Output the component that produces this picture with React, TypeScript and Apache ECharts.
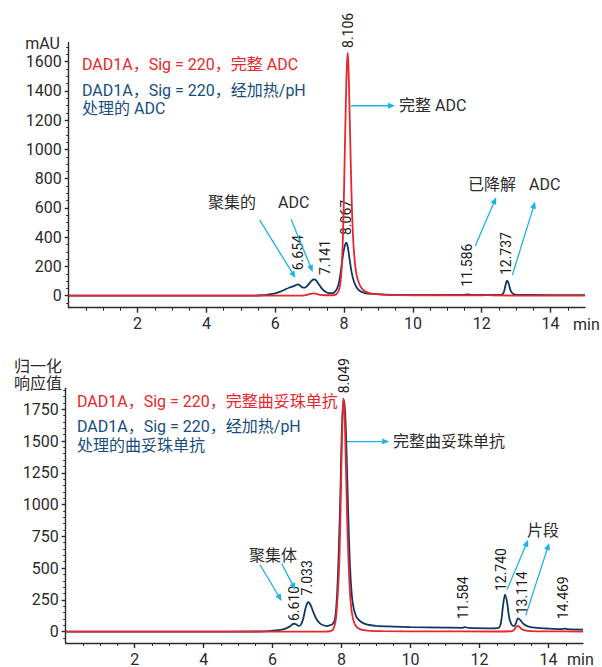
import React, { useEffect, useRef } from "react";
import * as echarts from "echarts";

const FONT = "Roboto, 'Noto Sans CJK SC', sans-serif";
const RED = "#e8262b";
const NAVY = "#0d3864";
const LEGEND_BLUE = "#174d7e";
const CYAN = "#19b3ea";
const INK = "#2b2b2b";

// ---- Panel A: ADC, absorbance (mAU) vs retention time (min) ----
const adcIntactTime = [0, 2, 4, 6, 6.8, 6.95, 7.05, 7.12, 7.2, 7.3, 7.45, 7.65, 7.78, 7.86, 7.92, 7.97, 8.01, 8.05, 8.08, 8.106, 8.13, 8.16, 8.2, 8.24, 8.29, 8.35, 8.42, 8.5, 8.62, 8.8, 9.1, 9.6, 10.5, 12.0, 12.16, 12.3, 13.5, 15];
const adcIntactSignal = [0, 0, 0, 0, 1, 7, 14, 16, 12, 6, 3, 3, 12, 45, 150, 420, 850, 1300, 1560, 1660, 1560, 1260, 850, 520, 290, 160, 95, 55, 28, 14, 7, 4, 3, 2, 6, 2, 1, 0];

const adcStressedTime = [0, 2, 4, 5.4, 5.6, 5.8, 6.0, 6.15, 6.3, 6.42, 6.52, 6.6, 6.654, 6.7, 6.78, 6.86, 6.95, 7.03, 7.1, 7.141, 7.18, 7.26, 7.35, 7.45, 7.55, 7.65, 7.73, 7.8, 7.86, 7.92, 7.97, 8.02, 8.067, 8.11, 8.16, 8.22, 8.29, 8.37, 8.46, 8.6, 8.8, 9.2, 10, 11, 11.45, 11.586, 11.7, 12.2, 12.55, 12.63, 12.69, 12.737, 12.78, 12.84, 12.92, 13.05, 13.5, 14.5, 15];
const adcStressedSignal = [0, 0, 0, 1, 3, 8, 16, 28, 44, 56, 64, 72, 78, 74, 58, 55, 72, 96, 110, 112, 106, 80, 50, 28, 18, 17, 26, 50, 100, 190, 280, 340, 362, 330, 250, 160, 95, 55, 32, 18, 12, 8, 6, 5, 5, 9, 5, 5, 6, 18, 70, 103, 85, 35, 11, 6, 5, 4, 4];

const adcPeakTimes = [6.654, 7.141, 8.067, 8.106, 11.586, 12.737];
const adcLabelLayout = [
  { base: 174, dx: 0 },
  { base: 141, dx: 11 },
  { base: 415, dx: 0 },
  { base: 1694, dx: 0 },
  { base: 62, dx: 0 },
  { base: 141, dx: -1 },
];

// ---- Panel B: trastuzumab, normalised response vs retention time (min) ----
const mabIntactTime = [0, 2, 4, 6, 7.5, 7.68, 7.76, 7.83, 7.89, 7.94, 7.98, 8.02, 8.049, 8.08, 8.11, 8.15, 8.2, 8.26, 8.33, 8.42, 8.55, 8.75, 9.2, 10.5, 12.5, 12.95, 13.02, 13.07, 13.114, 13.16, 13.22, 13.32, 13.5, 14, 15];
const mabIntactSignal = [0, 0, 0, 0, 0, 4, 20, 90, 300, 600, 1100, 1620, 1836, 1740, 1480, 1000, 560, 240, 100, 42, 18, 8, 4, 2, 1, 4, 22, 40, 45, 36, 20, 9, 4, 2, 1];

const mabStressedTime = [0, 2, 4, 5.6, 5.9, 6.1, 6.3, 6.42, 6.52, 6.61, 6.68, 6.75, 6.82, 6.89, 6.95, 7.0, 7.033, 7.07, 7.13, 7.2, 7.28, 7.37, 7.47, 7.57, 7.66, 7.74, 7.81, 7.87, 7.92, 7.97, 8.01, 8.06, 8.1, 8.14, 8.19, 8.25, 8.32, 8.42, 8.55, 8.72, 9.0, 9.5, 10.0, 11.0, 11.5, 11.584, 11.68, 12.3, 12.55, 12.62, 12.68, 12.74, 12.8, 12.86, 12.93, 13.0, 13.05, 13.114, 13.18, 13.27, 13.4, 13.6, 14.0, 14.38, 14.469, 14.56, 15];
const mabStressedSignal = [0, 0, 0, 1, 4, 9, 18, 30, 45, 62, 58, 45, 55, 105, 180, 222, 232, 225, 190, 140, 95, 65, 50, 44, 50, 60, 100, 300, 650, 1150, 1600, 1825, 1740, 1450, 950, 480, 230, 120, 80, 58, 46, 40, 36, 32, 30, 36, 29, 26, 30, 70, 200, 292, 230, 110, 55, 44, 62, 104, 92, 62, 42, 32, 24, 20, 24, 19, 16];

const mabPeakTimes = [6.61, 7.033, 8.049, 11.584, 12.74, 13.114, 14.469];
const mabLabelLayout = [
  { base: 83, dx: 0 },
  { base: 285, dx: -1.5 },
  { base: 1876, dx: 1 },
  { base: 97, dx: -2 },
  { base: 319, dx: -4.5 },
  { base: 136, dx: 3.6 },
  { base: 97, dx: -1.5 },
];

// ---- axis ticks ----
const xMajorTicks = [2, 4, 6, 8, 10, 12, 14];
const adcYLabels = [0, 200, 400, 600, 800, 1000, 1200, 1400, 1600];
const mabYLabels = [0, 250, 500, 750, 1000, 1250, 1500, 1750];

function steps(from: number, to: number, step: number): number[] {
  const out: number[] = [];
  for (let v = from; v <= to + 1e-9; v += step) out.push(Math.round(v * 100) / 100);
  return out;
}
const xMinorTicks = steps(0.5, 14.5, 0.5);
const adcYMinor = steps(-50, 1700, 50);
const mabYMinor = steps(-50, 1900, 50);

const zip = (t: number[], v: number[]) => t.map((x, i) => [x, v[i]]);

const inkLine = { color: INK, width: 1.4 };
const tickLabel = { fontSize: 16, color: INK, fontFamily: FONT, formatter: (v: number) => String(v) };

function xAxesFor(grid: number) {
  return [
    {
      type: "value", gridIndex: grid, position: "bottom", min: 0, max: 15,
      axisLine: { show: true, onZero: false, lineStyle: inkLine },
      axisTick: { show: true, customValues: xMajorTicks, length: 5, lineStyle: inkLine },
      axisLabel: { show: true, customValues: xMajorTicks, margin: 8, ...tickLabel },
      splitLine: { show: false },
    },
    {
      type: "value", gridIndex: grid, position: "bottom", min: 0, max: 15,
      axisLine: { show: false, onZero: false },
      axisTick: { show: true, customValues: xMinorTicks, length: 3, lineStyle: { color: INK, width: 1 } },
      axisLabel: { show: false },
      splitLine: { show: false },
    },
  ];
}

function yAxesFor(grid: number, min: number, max: number, labels: number[], minor: number[]) {
  return [
    {
      type: "value", gridIndex: grid, position: "left", min, max,
      axisLine: { show: true, onZero: false, lineStyle: inkLine },
      axisTick: { show: true, customValues: labels, length: 4, lineStyle: inkLine },
      axisLabel: { show: true, customValues: labels, margin: 7, ...tickLabel },
      splitLine: { show: false },
    },
    {
      type: "value", gridIndex: grid, position: "left", min, max,
      axisLine: { show: false, onZero: false },
      axisTick: { show: true, customValues: minor, length: 2.5, lineStyle: { color: INK, width: 1 } },
      axisLabel: { show: false },
      splitLine: { show: false },
    },
  ];
}

function trace(name: string, xi: number, yi: number, t: number[], v: number[], color: string, z: number) {
  return {
    name, type: "line", xAxisIndex: xi, yAxisIndex: yi,
    data: zip(t, v), showSymbol: false, symbol: "none", smooth: 0.35,
    lineStyle: { color, width: 1.8 }, z, silent: true,
  };
}

function text(x: number, y: number, content: string, fill: string, align = "left", size = 16) {
  return {
    type: "text", x, y, silent: true,
    style: { text: content, fill, font: `${size}px ${FONT}`, align, verticalAlign: "middle" },
  };
}

const App: React.FC = () => {
  const ref = useRef<HTMLDivElement>(null);

  useEffect(() => {
    document.body.style.margin = "0";
    if (!ref.current) return;
    const chart = echarts.init(ref.current, undefined, { renderer: "svg" });

    chart.setOption({
      animation: false,
      backgroundColor: "#ffffff",
      textStyle: { fontFamily: FONT },
      grid: [
        { left: 68.7, right: 17, top: 42.7, height: 265 },
        { left: 65.7, right: 19, top: 388.3, height: 255.4 },
      ],
      xAxis: [...xAxesFor(0), ...xAxesFor(1)],
      yAxis: [
        ...yAxesFor(0, -82, 1730, adcYLabels, adcYMinor),
        ...yAxesFor(1, -89.5, 1915, mabYLabels, mabYMinor),
      ],
      series: [
        trace("ADC heat/pH", 0, 0, adcStressedTime, adcStressedSignal, NAVY, 2),
        trace("ADC intact", 0, 0, adcIntactTime, adcIntactSignal, RED, 3),
        trace("mAb heat/pH", 2, 2, mabStressedTime, mabStressedSignal, NAVY, 2),
        trace("mAb intact", 2, 2, mabIntactTime, mabIntactSignal, RED, 3),
      ],
    });

    const toPx = (series: number, t: number, v: number) =>
      chart.convertToPixel({ seriesIndex: series }, [t, v]) as number[];

    const graphics: any[] = [];

    const peakLabels = (series: number, times: number[], layout: { base: number; dx: number }[]) => {
      times.forEach((t, i) => {
        const [px, py] = toPx(series, t, layout[i].base);
        graphics.push({
          type: "text", x: px + layout[i].dx, y: py, rotation: Math.PI / 2, silent: true,
          style: { text: t.toFixed(3), fill: "#1a1a1a", font: `14px ${FONT}`, align: "left", verticalAlign: "middle" },
        });
      });
    };
    peakLabels(0, adcPeakTimes, adcLabelLayout);
    peakLabels(2, mabPeakTimes, mabLabelLayout);

    const arrow = (series: number, t1: number, v1: number, t2: number, v2: number) => {
      const [x1, y1] = toPx(series, t1, v1);
      const [x2, y2] = toPx(series, t2, v2);
      const a = Math.atan2(y2 - y1, x2 - x1);
      const len = 7, half = 3;
      const bx = x2 - len * Math.cos(a), by = y2 - len * Math.sin(a);
      graphics.push({
        type: "line", silent: true,
        shape: { x1, y1, x2: bx + Math.cos(a), y2: by + Math.sin(a) },
        style: { stroke: CYAN, lineWidth: 1.3 },
      });
      graphics.push({
        type: "polygon", silent: true,
        shape: {
          points: [
            [x2, y2],
            [bx + half * Math.sin(a), by - half * Math.cos(a)],
            [bx - half * Math.sin(a), by + half * Math.cos(a)],
          ],
        },
        style: { fill: CYAN },
      });
    };
    // Panel A call-outs
    arrow(0, 8.2, 1299, 9.48, 1299);
    arrow(0, 5.545, 518, 6.59, 121);
    arrow(0, 6.46, 522, 7.09, 162);
    arrow(0, 11.81, 340, 12.42, 673);
    arrow(0, 12.89, 142, 13.55, 643);
    // Panel B call-outs
    arrow(2, 8.14, 1496, 9.38, 1496);
    arrow(2, 5.63, 528, 6.26, 242);
    arrow(2, 6.26, 536, 6.66, 328);
    arrow(2, 12.8, 332, 13.41, 724);
    arrow(2, 13.34, 128, 14.02, 698);

    graphics.push(
      // Panel A
      text(60, 43, "mAU", INK, "right"),
      text(82, 64, "DAD1A，Sig = 220，完整 ADC", RED),
      text(82, 90, "DAD1A，Sig = 220，经加热/pH", LEGEND_BLUE),
      text(82, 108.5, "处理的 ADC", LEGEND_BLUE),
      text(399, 105, "完整 ADC", INK),
      text(208, 202.7, "聚集的", INK),
      text(278, 202.7, "ADC", INK),
      text(468, 184, "已降解", INK),
      text(529, 184, "ADC", INK),
      text(573, 324, "min", INK),
      // Panel B
      text(14, 366, "归一化", INK),
      text(14, 383.3, "响应值", INK),
      text(77, 401.7, "DAD1A，Sig = 220，完整曲妥珠单抗", RED),
      text(77, 426.7, "DAD1A，Sig = 220，经加热/pH", LEGEND_BLUE),
      text(77, 445, "处理的曲妥珠单抗", LEGEND_BLUE),
      text(393, 441.7, "完整曲妥珠单抗", INK),
      text(249, 555, "聚集体", INK),
      text(527, 530.7, "片段", INK),
      text(567, 659, "min", INK),
    );

    chart.setOption({ graphic: graphics });

    return () => chart.dispose();
  }, []);

  return <div ref={ref} style={{ width: 602, height: 667 }} />;
};

export default App;
